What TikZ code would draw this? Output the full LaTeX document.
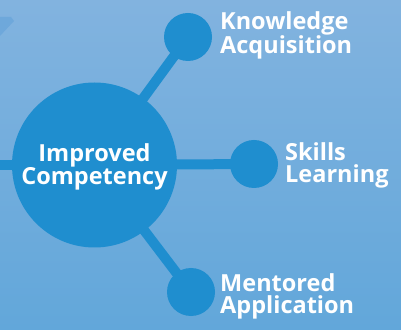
\documentclass[tikz,border=0pt]{standalone}
\usepackage{fontspec}
\setmainfont{Open Sans}
\definecolor{bgtop}{HTML}{82B3DF}
\definecolor{bgbot}{HTML}{62A7DA}
\definecolor{dotblue}{HTML}{1F8ECF}
\definecolor{tailblue}{HTML}{6EA8DB}
\begin{document}
\begin{tikzpicture}[x=1pt,y=1pt,
  hub/.style={circle,fill=dotblue,minimum size=165pt,inner sep=0pt},
  dot/.style={circle,fill=dotblue,minimum size=48pt,inner sep=0pt},
  label/.style={text=white,font=\bfseries\fontsize{23.5}{22}\selectfont,inner sep=0pt},
  spoke/.style={draw=dotblue,line width=10pt}]
\shade [top color=bgtop,bottom color=bgbot] (0,0) rectangle (401,329);
\useasboundingbox (0,0) rectangle (401,329);
\fill [tailblue] (0,312) -- (11,312) -- (14,308) -- (0,293) -- cycle;
\coordinate (edge) at (0,164);
\node [dot] (know) at (188,292) {};
\node [dot] (skill) at (254,165) {};
\node [dot] (ment) at (191,37) {};
\draw [spoke] (edge) -- (94.5,164);
\draw [spoke] (94.5,164) -- (know.center);
\draw [spoke] (94.5,164) -- (skill.center);
\draw [spoke] (94.5,164) -- (ment.center);
\node [hub] (comp) at (94.5,164) {};
\node [label,align=center,anchor=base] (comptxt) at (94.5,144) {Improved\\Competency};
\node [label,align=left,anchor=base west] (knowtxt) at (220,275) {Knowledge\\Acquisition};
\node [label,align=left,anchor=base west] (skilltxt) at (285,146) {Skills\\Learning};
\node [label,align=left,anchor=base west] (menttxt) at (220,16) {Mentored\\Application};
\end{tikzpicture}
\end{document}
